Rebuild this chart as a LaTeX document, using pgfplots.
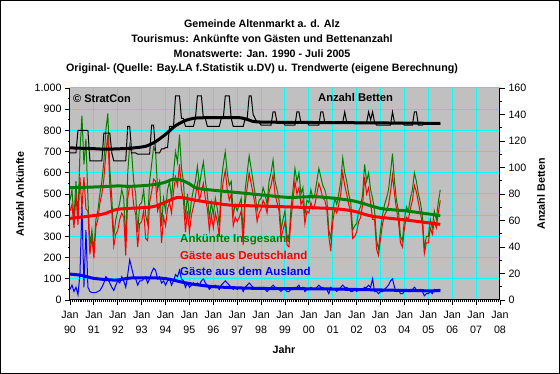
\documentclass[border=0pt]{standalone}
\usepackage{pgfplots}
\pgfplotsset{compat=1.18}
\usepackage{pgfplotstable}
\usepackage{fontspec}
\setmainfont{Liberation Sans}
\definecolor{bggray}{HTML}{C0C0C0}
\definecolor{gridcyan}{HTML}{00FFFF}
\definecolor{xlgreen}{HTML}{008000}
\definecolor{xlred}{HTML}{FF0000}
\definecolor{xlblue}{HTML}{0000FF}

% m = month index (0 = Jan 1990); tot = Ankuenfte insgesamt, de = Deutschland, au = Ausland, bet = Betten
\pgfplotstableread{
m tot de au bet
0 470 420 50 111
1 520 450 70 111
2 380 340 40 111
3 560 500 60 111
4 380 355 25 128
5 700 580 120 128
6 870 430 440 128
7 640 580 60 128
8 760 430 330 128
9 480 420 60 128
10 255 215 40 105
11 330 295 35 105
12 230 195 35 105
13 380 345 35 105
14 420 380 40 105
15 500 455 45 105
16 560 500 60 105
17 650 570 80 126
18 800 690 110 126
19 880 780 100 126
20 620 540 80 126
21 480 420 60 111
22 300 255 45 105
23 380 310 70 105
24 420 330 90 105
25 460 380 80 105
26 520 410 110 105
27 480 390 90 105
28 270 210 60 105
29 600 480 120 131
30 730 540 190 131
31 690 540 150 111
32 560 450 110 111
33 500 400 100 111
34 320 250 70 110
35 450 360 90 110
36 460 370 90 110
37 520 420 100 110
38 400 290 110 110
39 360 280 80 110
40 560 460 100 110
41 640 510 130 132
42 720 570 150 132
43 700 560 140 111
44 520 420 100 111
45 560 450 110 111
46 350 270 80 114
47 480 390 90 114
48 420 350 70 115
49 520 430 90 115
50 560 460 100 131
51 480 410 70 131
52 600 510 90 131
53 700 580 120 154
54 650 540 110 154
55 780 640 140 154
56 620 520 100 137
57 560 470 90 137
58 380 320 60 131
59 500 420 80 131
60 380 320 60 131
61 470 400 70 131
62 520 440 80 131
63 560 490 70 137
64 630 550 80 154
65 540 470 70 154
66 600 510 90 154
67 650 550 100 137
68 560 480 80 137
69 500 430 70 131
70 380 330 50 131
71 460 400 60 131
72 400 340 60 131
73 480 410 70 131
74 430 370 60 131
75 350 300 50 131
76 560 490 70 137
77 640 560 80 137
78 700 610 90 154
79 600 520 80 154
80 540 470 70 154
81 560 500 60 137
82 400 350 50 131
83 450 390 60 131
84 420 370 50 131
85 450 390 60 131
86 480 420 60 131
87 300 260 40 131
88 520 460 60 137
89 600 530 70 137
90 680 600 80 154
91 620 550 70 154
92 560 500 60 140
93 500 450 50 137
94 420 370 50 134
95 470 410 60 134
96 480 430 50 132
97 530 470 60 132
98 500 450 50 132
99 450 410 40 132
100 560 510 50 132
101 600 540 60 132
102 660 590 70 142
103 560 500 60 142
104 520 460 60 134
105 470 420 50 134
106 330 290 40 134
107 380 330 50 134
108 420 370 50 132
109 300 260 40 132
110 290 250 40 132
111 430 380 50 132
112 520 470 50 132
113 620 560 60 132
114 560 500 60 142
115 600 530 70 142
116 500 450 50 134
117 530 470 60 134
118 400 360 40 134
119 470 420 50 134
120 460 410 50 132
121 520 460 60 132
122 480 430 50 132
123 500 450 50 132
124 560 500 60 132
125 620 550 70 132
126 580 520 60 142
127 540 480 60 142
128 520 470 50 134
129 480 430 50 134
130 330 300 30 134
131 290 230 60 134
132 420 370 50 134
133 480 430 50 134
134 450 410 40 134
135 500 450 50 134
136 560 500 60 134
137 670 600 70 134
138 600 540 60 142
139 560 500 60 134
140 500 450 50 134
141 460 420 40 134
142 330 290 40 134
143 350 300 50 134
144 360 320 40 134
145 420 370 50 134
146 440 390 50 134
147 500 450 50 134
148 640 580 60 134
149 560 500 60 134
150 600 530 70 142
151 520 460 60 136
152 480 380 100 142
153 420 380 40 134
154 280 240 40 132
155 240 210 30 132
156 330 290 40 132
157 400 360 40 132
158 450 400 50 132
159 480 420 60 132
160 520 450 70 132
161 600 510 90 132
162 690 590 100 142
163 560 500 60 134
164 470 430 40 134
165 420 370 50 134
166 300 270 30 134
167 280 250 30 134
168 380 340 40 132
169 440 390 50 132
170 420 380 40 132
171 480 430 50 132
172 520 470 50 132
173 600 540 60 142
174 560 510 50 142
175 500 460 40 132
176 460 410 50 132
177 400 360 40 132
178 240 220 20 133
179 300 270 30 133
180 300 270 30 133
181 380 340 40 133
182 340 310 30 133
183 420 370 50 133
184 380 340 40 133
185 460 410 50 133
186 520 470 50 133
}\monthly

\begin{document}
\begin{tikzpicture}
\fill[white] (-70pt,-74pt) rectangle (490pt,300pt);
\begin{axis}[
  at={(0,0)}, anchor=south west,
  scale only axis, width=430pt, height=212pt,
  xmin=0, xmax=216, ymin=0, ymax=1000,
  axis x line*=bottom, axis y line*=left,
  axis line style={black, line width=1pt},
  axis background/.style={fill=bggray},
  xtick={0,12,...,216},
  xticklabels={{Jan\\90},{Jan\\91},{Jan\\92},{Jan\\93},{Jan\\94},{Jan\\95},{Jan\\96},{Jan\\97},{Jan\\98},{Jan\\99},{Jan\\00},{Jan\\01},{Jan\\02},{Jan\\03},{Jan\\04},{Jan\\05},{Jan\\06},{Jan\\07},{Jan\\08}},
  minor x tick num=11,
  ytick={0,100,...,1000},
  minor y tick num=1,
  grid=major,
  major grid style={gridcyan, line width=1pt},
  tick align=outside,
  major tick length=5pt, minor tick length=2pt,
  every tick/.style={black, line width=0.9pt},
  tick label style={font=\fontsize{10.7}{15}\selectfont},
  xticklabel style={align=center, yshift=-3pt},
  /pgf/number format/assume math mode=true,
  yticklabel style={/pgf/number format/1000 sep={.}},
]
\addplot[xlgreen, line width=1pt] table[x=m, y=tot] {\monthly};
\addplot[xlred, line width=1pt] table[x=m, y=de] {\monthly};
\addplot[xlblue, line width=1pt] table[x=m, y=au] {\monthly};
\addplot[xlgreen, line width=3pt, smooth, tension=0.5] coordinates {
(0,530) (12,533) (24,538) (30,536) (40,542) (47,553) (52,570) (56,565) (60,548) (64,527) (74,516) (85,506) (97,495) (110,484) (124,487) (142,468) (156,432) (169,420) (186,398)};
\addplot[xlred, line width=3pt, smooth, tension=0.5] coordinates {
(0,385) (16,404) (24,428) (41,439) (48,462) (54,484) (58,480) (64,469) (80,448) (97,443) (130,432) (142,420) (152,395) (169,377) (186,357)};
\addplot[xlblue, line width=3pt, smooth, tension=0.5] coordinates {
(0,122) (6,116) (12,102) (23,94) (31,104) (47,102) (59,79) (72,63) (93,55) (130,52) (174,44) (186,44)};
\end{axis}
\begin{axis}[
  at={(0,0)}, anchor=south west,
  scale only axis, width=430pt, height=212pt,
  xmin=0, xmax=216, ymin=0, ymax=160,
  axis x line=none, axis y line*=right,
  axis line style={black, line width=1pt},
  ytick={0,20,...,160},
  minor y tick num=1,
  tick align=outside,
  major tick length=5pt, minor tick length=2pt,
  every tick/.style={black, line width=0.9pt},
  tick label style={font=\fontsize{10.7}{15}\selectfont},
  /pgf/number format/assume math mode=true,
]
\addplot[black, line width=1pt] table[x=m, y=bet] {\monthly};
\addplot[black, line width=3pt, smooth, tension=0.4] coordinates {
(0,114.8) (12,114.2) (18,113.8) (30,114.5) (38,116) (43,119.5) (48,125) (53,131.5) (58,135.5) (63,137.3) (70,137.6) (85,137.6) (90,135.8) (96,134.3) (140,133.8) (186,133.3)};
\end{axis}
% titles
\begin{scope}[every node/.style={font=\fontsize{10.7}{12}\selectfont\bfseries, anchor=base, inner sep=0pt}]
\node at (192pt,272.5pt) {Gemeinde Altenmarkt a. d. Alz};
\node at (192pt,257.5pt) {Tourismus: Ankünfte von Gästen und Bettenanzahl};
\node at (192pt,242.5pt) {Monatswerte: Jan. 1990 - Juli 2005};
\node at (192pt,228pt) {Original- (Quelle: Bay.LA f.Statistik u.DV) u. Trendwerte (eigene Berechnung)};
\end{scope}
\node[font=\fontsize{10.7}{12}\selectfont\bfseries, rotate=90] at (-50pt,106pt) {Anzahl Ankünfte};
\node[font=\fontsize{10.7}{12}\selectfont\bfseries, rotate=90] at (471pt,106pt) {Anzahl Betten};
\node[font=\fontsize{10.7}{12}\selectfont\bfseries] at (214pt,-50pt) {Jahr};
\node[font=\fontsize{11}{12}\selectfont\bfseries, anchor=west, inner sep=0pt] at (3pt,201pt) {© StratCon};
\node[font=\fontsize{11.2}{12}\selectfont\bfseries, anchor=west, inner sep=0pt] at (248pt,202pt) {Anzahl Betten};
\node[font=\fontsize{11.5}{12}\selectfont\bfseries, anchor=west, inner sep=0pt, text=xlgreen] at (110pt,60pt) {Ankünfte Insgesamt};
\node[font=\fontsize{11.5}{12}\selectfont\bfseries, anchor=west, inner sep=0pt, text=xlred] at (110pt,45pt) {Gäste aus Deutschland};
\node[font=\fontsize{11.5}{12}\selectfont\bfseries, anchor=west, inner sep=0pt, text=xlblue] at (110pt,29pt) {Gäste aus dem Ausland};
\draw[black, line width=1pt] (-69.5pt,-73.5pt) rectangle (489.5pt,299.5pt);
\pgfresetboundingbox
\path[use as bounding box] (-70pt,-74pt) rectangle (490pt,300pt);
\end{tikzpicture}
\end{document}
